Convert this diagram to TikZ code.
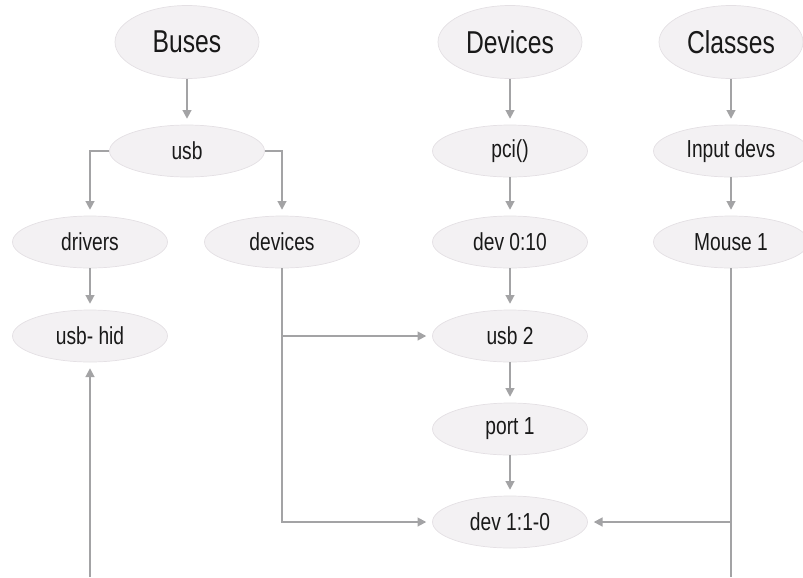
\documentclass[tikz,border=0pt]{standalone}
\usepackage{fontspec}
\setmainfont{Liberation Sans}[FakeStretch=0.78]
\usetikzlibrary{shapes.geometric,arrows.meta}

\definecolor{bubble}{HTML}{F3F1F3}
\definecolor{bubbleline}{HTML}{E4E0E4}
\definecolor{wire}{HTML}{A3A3A5}

\tikzset{
    top/.style={ellipse, fill=bubble, draw=bubbleline, line width=0.6pt,
        minimum width=4.32cm, minimum height=2.19cm, inner sep=0pt,
        font=\fontsize{27}{30}\selectfont, text=black!90},
    sub/.style={ellipse, fill=bubble, draw=bubbleline, line width=0.6pt,
        minimum width=4.65cm, minimum height=1.56cm, inner sep=0pt,
        font=\fontsize{21}{24}\selectfont, text=black!90},
    link/.style={draw=wire, line width=1.6pt,
        -{Triangle[width=7.5pt,length=7.5pt]}, shorten >=5pt},
    wire/.style={draw=wire, line width=1.6pt}
}

\begin{document}
\begin{tikzpicture}[x=0.03cm, y=-0.03cm]
            \useasboundingbox (0, 0) rectangle (803, 577);

            \node[top] (buses)   at (187, 42) {Buses};
            \node[top] (devs)    at (510, 42) {Devices};
            \node[top] (classes) at (731, 42) {Classes};

            \node[sub] (usb)     at (187, 151) {usb};
            \node[sub] (pci)     at (510, 151) {pci()};
            \node[sub] (input)   at (731, 151) {Input devs};

            \node[sub] (drivers) at (90, 242)  {drivers};
            \node[sub] (devices) at (282, 242) {devices};
            \node[sub] (dev010)  at (510, 242) {dev 0:10};
            \node[sub] (mouse)   at (731, 242) {Mouse 1};

            \node[sub] (usbhid)  at (90, 336)  {usb- hid};
            \node[sub] (usbtwo)  at (510, 336) {usb 2};
            \node[sub] (port)    at (510, 429) {port 1};
            \node[sub] (dev110)  at (510, 522) {dev 1:1-0};

            \coordinate (hidfoot)   at (90, 577);
            \coordinate (mousefoot) at (731, 577);

            \draw[link] (buses) -- (usb);
            \draw[link] (usb.west) -| (drivers.north);
            \draw[link] (usb.east) -| (devices.north);
            \draw[link] (drivers) -- (usbhid);

            \draw[link] (devs) -- (pci);
            \draw[link] (pci) -- (dev010);
            \draw[link] (dev010) -- (usbtwo);
            \draw[link] (usbtwo) -- (port);
            \draw[link] (port) -- (dev110);

            \draw[link] (classes) -- (input);
            \draw[link] (input) -- (mouse);

            \draw[link] (devices.south) |- (dev110.west);
            \draw[link] (devices.south |- usbtwo.west) -- (usbtwo.west);
            \draw[wire] (mouse.south) -- (mousefoot);
            \draw[link] (mouse.south |- dev110.east) -- (dev110.east);
            \draw[link] (hidfoot) -- (usbhid.south);
        \end{tikzpicture}
\end{document}
